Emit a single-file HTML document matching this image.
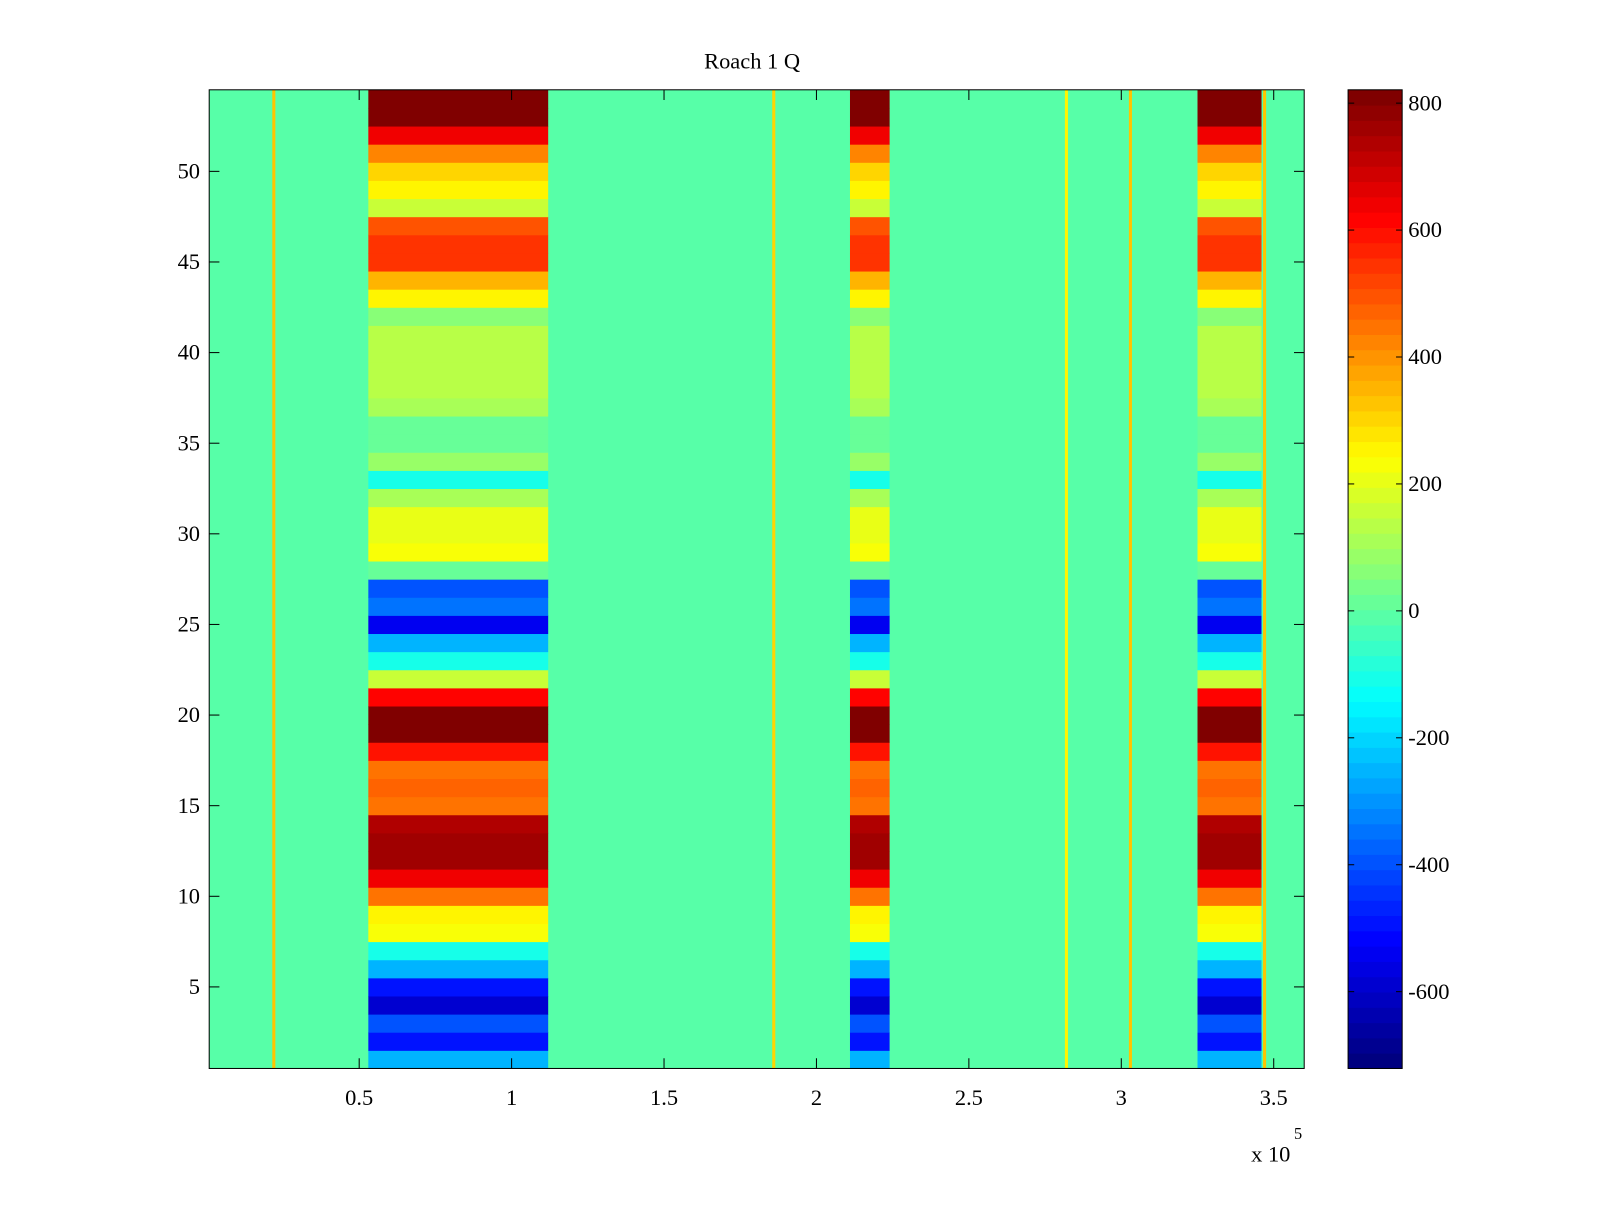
<!DOCTYPE html>
<html><head><meta charset="utf-8"><style>
body{margin:0;background:#fff;}
svg text{font-family:"Liberation Serif",serif;fill:#000;}
</style></head><body>
<svg id="chart" width="1600" height="1200" xmlns="http://www.w3.org/2000/svg">
<rect width="1600" height="1200" fill="#fff"/>
<g transform="scale(1.0205)">
<text x="737" y="67" font-size="22" text-anchor="middle">Roach 1 Q</text>
<g id="plot"></g>
<g id="cbar"></g>
<g id="axes"></g>
</g>
</svg>
<script>
// rows 1..54: value inside the active blocks
const blockRowValues = [-250,-500,-400,-600,-500,-250,-100,230,250,450,650,750,760,740,450,460,450,600,800,800,620,150,-100,-250,-550,-350,-400,20,230,200,200,120,-100,80,20,20,100,130,130,130,130,60,250,350,550,550,500,150,250,300,420,650,800,800];
const backgroundValue = 0;
const blockStarts = [53000, 211000, 325000];
const blockEnds = [112000, 224000, 346000];
const lineXs = [22000, 186000, 282000, 303000, 347000];
const lineValues = [330, 300, 260, 320, 330];
const xTicks = [50000,100000,150000,200000,250000,300000,350000];
const xTickLabels = ["0.5","1","1.5","2","2.5","3","3.5"];
const yTicks = [5,10,15,20,25,30,35,40,45,50];
const cTicks = [800,600,400,200,0,-200,-400,-600];

const X0=205,X1=1278,Y0=88,Y1=1047;
const xmin=800,xmax=360000,rmin=0.5,rmax=54.5;
const cmin=-721,cmax=821;
function xs(v){return X0+(v-xmin)/(xmax-xmin)*(X1-X0);}
function ys(r){return Y1-(r-rmin)/(rmax-rmin)*(Y1-Y0);}
function cy(v){return Y1-(v-cmin)/(cmax-cmin)*(Y1-Y0);}
function jet(v){
  let t=(v-cmin)/(cmax-cmin); t=Math.max(0,Math.min(1,t));
  t=Math.min(63,Math.floor(t*64))/63;
  const c=x=>Math.round(255*Math.max(0,Math.min(1,x)));
  return `rgb(${c(1.5-Math.abs(4*t-3))},${c(1.5-Math.abs(4*t-2))},${c(1.5-Math.abs(4*t-1))})`;
}
const NS="http://www.w3.org/2000/svg";
function mk(parent,tag,attrs){const e=document.createElementNS(NS,tag);for(const k in attrs)e.setAttribute(k,attrs[k]);parent.appendChild(e);return e;}
const plot=document.getElementById('plot');
let bg=mk(plot,'rect',{x:X0,y:Y0,width:X1-X0,height:Y1-Y0,fill:jet(backgroundValue)});


lineXs.forEach((lx,i)=>{
  const e=mk(plot,'rect',{x:xs(lx)-1.5,y:Y0,width:3,height:Y1-Y0,fill:jet(lineValues[i])});
  
  
});
blockStarts.forEach((s,b)=>{
  blockRowValues.forEach((v,i)=>{
    const r=i+1;
    const e=mk(plot,'rect',{x:xs(s),y:ys(r+0.5),width:xs(blockEnds[b])-xs(s),height:ys(r-0.5)-ys(r+0.5)+0.5,fill:jet(v)});
    
    
  });
});
const axes=document.getElementById('axes');
let fr=mk(axes,'rect',{x:X0,y:Y0,width:X1-X0,height:Y1-Y0,fill:'none',stroke:'#000','stroke-width':1});


xTicks.forEach((t,i)=>{
  const x=xs(t);
  mk(axes,'line',{x1:x,x2:x,y1:Y1,y2:Y1-10,stroke:'#000'});
  mk(axes,'line',{x1:x,x2:x,y1:Y0,y2:Y0+10,stroke:'#000'});
  const tx=mk(axes,'text',{x:x,y:1083,'font-size':22,'text-anchor':'middle'});
  tx.textContent=xTickLabels[i];
  
  
});
yTicks.forEach(t=>{
  const y=ys(t);
  mk(axes,'line',{x1:X0,x2:X0+10,y1:y,y2:y,stroke:'#000'});
  mk(axes,'line',{x1:X1,x2:X1-10,y1:y,y2:y,stroke:'#000'});
  const tx=mk(axes,'text',{x:196,y:y+7,'font-size':22,'text-anchor':'end'});
  tx.textContent=t;
  
  
});
let ex=mk(axes,'text',{x:1226,y:1138,'font-size':22});
ex.textContent='x 10';


let ex2=mk(axes,'text',{x:1268,y:1116,'font-size':16});
ex2.textContent='5';


// colorbar
const cb=document.getElementById('cbar');
const CX0=1321,CX1=1374;
for(let k=0;k<64;k++){
  const v0=cmin+(cmax-cmin)*k/64,v1=cmin+(cmax-cmin)*(k+1)/64;
  const e=mk(cb,'rect',{x:CX0,y:cy(v1),width:CX1-CX0,height:cy(v0)-cy(v1)+0.5,fill:jet((v0+v1)/2)});
  
  
}
mk(cb,'rect',{x:CX0,y:Y0,width:CX1-CX0,height:Y1-Y0,fill:'none',stroke:'#000'});
cTicks.forEach(t=>{
  const y=cy(t);
  mk(cb,'line',{x1:CX0,x2:CX0+6,y1:y,y2:y,stroke:'#000'});
  mk(cb,'line',{x1:CX1,x2:CX1-6,y1:y,y2:y,stroke:'#000'});
  const tx=mk(cb,'text',{x:1380,y:y+7,'font-size':22});
  tx.textContent=t;
  
  
});
</script>
</body></html>
